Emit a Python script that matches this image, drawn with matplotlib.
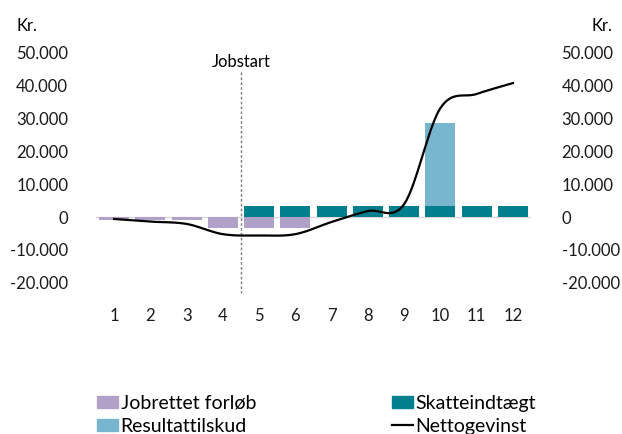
import numpy as np
import matplotlib
matplotlib.use("Agg")
import matplotlib.pyplot as plt
from matplotlib.patches import Patch
from matplotlib.lines import Line2D
from matplotlib.ticker import FuncFormatter

plt.rcParams['font.family'] = ['Lato', 'DejaVu Sans']

maaneder = np.arange(1, 13)
jobrettet = [-800, -800, -800, -3300, -3300, -3300, 0, 0, 0, 0, 0, 0]
skat = [0, 0, 0, 0, 3400, 3400, 3400, 3400, 3400, 3400, 3400, 3400]
resultat = [0, 0, 0, 0, 0, 0, 0, 0, 0, 25100, 0, 0]
netto = [-600, -1400, -2100, -5200, -5600, -5200, -1500, 1800, 3900, 33000, 37300, 40600]
yticks = [-20000, -10000, 0, 10000, 20000, 30000, 40000, 50000]

lilla = '#B1A0C7'
teal = '#00808F'
lysblaa = '#78B5CE'


def glat(x, y, n=30):
    # catmull-rom kurve, som excels "udjaevnet linje"
    x = np.asarray(x, float)
    y = np.asarray(y, float)
    px = np.concatenate([[2 * x[0] - x[1]], x, [2 * x[-1] - x[-2]]])
    py = np.concatenate([[2 * y[0] - y[1]], y, [2 * y[-1] - y[-2]]])
    xs, ys = [], []
    t = np.linspace(0, 1, n)
    for i in range(1, len(px) - 2):
        for p, out in ((px, xs), (py, ys)):
            p0, p1, p2, p3 = p[i - 1], p[i], p[i + 1], p[i + 2]
            c1 = p1 + (p2 - p0) / 6
            c2 = p2 - (p3 - p1) / 6
            out.extend((1 - t) ** 3 * p1 + 3 * (1 - t) ** 2 * t * c1
                       + 3 * (1 - t) * t ** 2 * c2 + t ** 3 * p2)
    return np.array(xs), np.array(ys)


fig = plt.figure(figsize=(6.22, 4.34), dpi=100)
ax = fig.add_axes([0.1543, 0.348, 0.6994, 0.532])

b = 0.83
ax.bar(maaneder, jobrettet, width=b, color=lilla, zorder=2)
ax.bar(maaneder, skat, width=b, color=teal, zorder=2)
ax.bar(maaneder, resultat, width=b, bottom=skat, color=lysblaa, zorder=2)
gx, gy = glat(maaneder, netto)
ax.plot(gx, gy, color='black', lw=1.6, zorder=3)
ax.axhline(0, color='#D9D9D9', lw=1, zorder=1)

ax.set_xlim(0.5, 12.5)
ax.set_ylim(-20000, 50000)
ax.set_xticks(maaneder)
ax.set_yticks(yticks)
fmt = FuncFormatter(lambda v, p: f'{int(v):,}'.replace(',', '.'))
ax.yaxis.set_major_formatter(fmt)
ax.tick_params(axis='both', length=0, labelsize=12, colors='#1A1A1A')
ax.tick_params(axis='x', pad=18)
ax.tick_params(axis='y', pad=20)
for s in ax.spines.values():
    s.set_visible(False)

ax2 = ax.twinx()
ax2.set_ylim(-20000, 50000)
ax2.set_yticks(yticks)
ax2.yaxis.set_major_formatter(fmt)
ax2.tick_params(axis='y', length=0, labelsize=12, colors='#1A1A1A', pad=22)
for s in ax2.spines.values():
    s.set_visible(False)

ax.plot([4.5, 4.5], [44000, -23000], color='#7F7F7F', lw=1, ls=(0, (2, 1.5)),
        clip_on=False, zorder=1)
ax.text(4.5, 47000, 'Jobstart', ha='center', va='center', fontsize=12)

fig.text(0.027, 0.94, 'Kr.', fontsize=12, va='center')
fig.text(0.985, 0.94, 'Kr.', fontsize=12, va='center', ha='right')

handles = [Patch(color=lilla), Patch(color=lysblaa), Patch(color=teal),
           Line2D([], [], color='black', lw=1.6)]
labels = ['Jobrettet forløb', 'Resultattilskud', 'Skatteindtægt', 'Nettogevinst']
fig.legend(handles, labels, loc='lower left', bbox_to_anchor=(0.155, -0.004), ncol=2,
           frameon=False, fontsize=14, handlelength=1.05, handleheight=0.6,
           handletextpad=0.15, columnspacing=7.0, labelspacing=0.3,
           borderaxespad=0, borderpad=0.05)

fig.savefig('out.png', dpi=100)
